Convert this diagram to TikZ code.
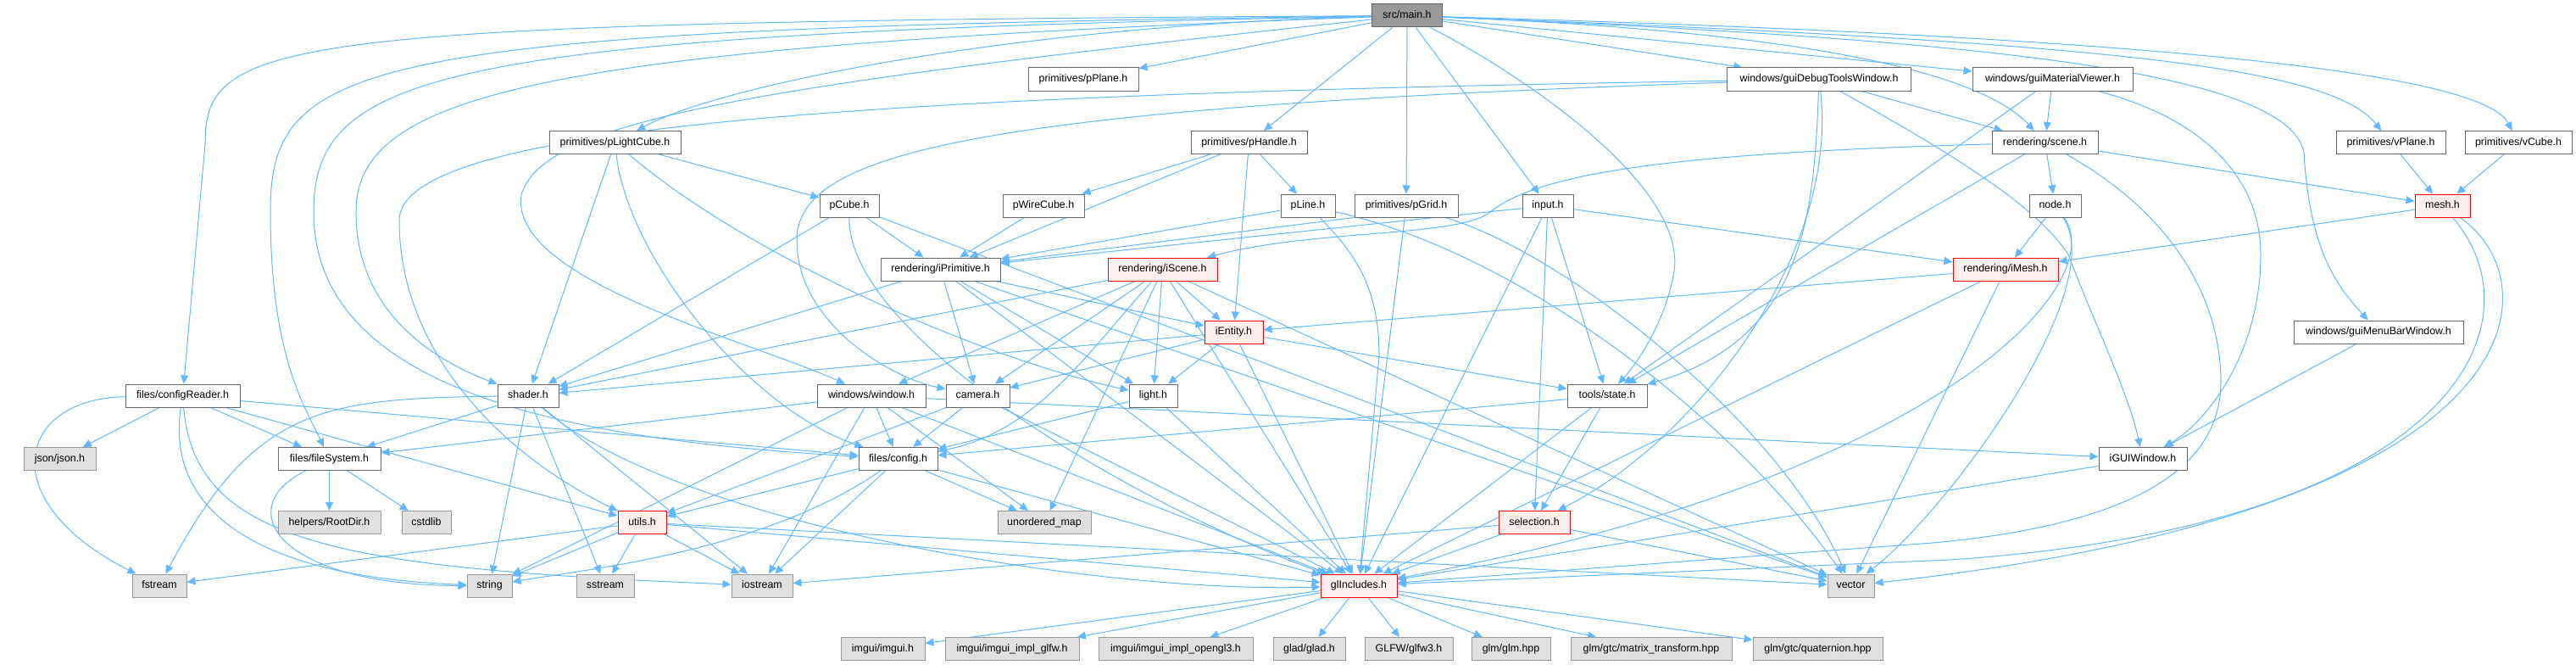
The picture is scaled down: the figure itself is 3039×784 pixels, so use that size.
\documentclass[tikz,border=0pt]{standalone}
\usepackage{fontspec}
\setmainfont{Liberation Sans}
\usetikzlibrary{arrows.meta}
\definecolor{edgec}{HTML}{63B8FF}
\definecolor{nbord}{HTML}{666666}
\definecolor{xbord}{HTML}{999999}
\definecolor{xfill}{HTML}{E0E0E0}
\definecolor{rbord}{HTML}{FF0000}
\definecolor{rfill}{HTML}{FFF0F0}
\definecolor{mfill}{HTML}{999999}
\pgfdeclarelayer{bg}
\pgfsetlayers{bg,main}
\newcommand{\lblfont}{\fontsize{12.4pt}{15pt}\selectfont}
\begin{document}
\begin{tikzpicture}[x=1pt,y=-1pt,
  nd/.style={draw=nbord, fill=white, line width=1pt, rectangle, inner sep=0pt,
     minimum height=27pt, font=\lblfont, text height=9.2pt, text depth=2.4pt},
  xt/.style={nd, draw=xbord, fill=xfill},
  tr/.style={nd, draw=rbord, fill=rfill},
  rt/.style={nd, fill=mfill},
  dep/.style={draw=edgec, line width=1pt, -{Triangle[length=10pt,width=9pt]}},
]
\useasboundingbox (0,0) rectangle (3039,784);
% nodes
\node[rt,minimum width=83pt] (mainh) at (1660,18.5) {src/main.h};
\node[nd,minimum width=130pt] (pPlane) at (1278,93.5) {primitives/pPlane.h};
\node[nd,minimum width=217pt] (guiDebug) at (2146,93.5) {windows/guiDebugToolsWindow.h};
\node[nd,minimum width=189pt] (guiMat) at (2421.5,93.5) {windows/guiMaterialViewer.h};
\node[nd,minimum width=155pt] (pLightCube) at (725.5,168) {primitives/pLightCube.h};
\node[nd,minimum width=137pt] (pHandle) at (1473.5,168) {primitives/pHandle.h};
\node[nd,minimum width=125pt] (scene) at (2412.5,168) {rendering/scene.h};
\node[nd,minimum width=129pt] (vPlane) at (2820.5,168) {primitives/vPlane.h};
\node[nd,minimum width=126pt] (vCube) at (2971,168) {primitives/vCube.h};
\node[nd,minimum width=70pt] (pCube) at (1002,242.5) {pCube.h};
\node[nd,minimum width=96pt] (pWireCube) at (1231,242.5) {pWireCube.h};
\node[nd,minimum width=64pt] (pLine) at (1543,242.5) {pLine.h};
\node[nd,minimum width=122pt] (pGrid) at (1659,242.5) {primitives/pGrid.h};
\node[nd,minimum width=60pt] (input) at (1826,242.5) {input.h};
\node[nd,minimum width=61pt] (nodeh) at (2424.5,242.5) {node.h};
\node[tr,minimum width=65pt] (mesh) at (2881.5,242.5) {mesh.h};
\node[nd,minimum width=141pt] (iPrim) at (1109.5,317.5) {rendering/iPrimitive.h};
\node[tr,minimum width=129pt] (iScene) at (1371.5,317.5) {rendering/iScene.h};
\node[tr,minimum width=124pt] (iMesh) at (2366,317.5) {rendering/iMesh.h};
\node[tr,minimum width=69pt] (iEntity) at (1455.5,391.5) {iEntity.h};
\node[nd,minimum width=200pt] (guiMenu) at (2806,391.5) {windows/guiMenuBarWindow.h};
\node[nd,minimum width=135pt] (cfgReader) at (215.5,466.5) {files/configReader.h};
\node[nd,minimum width=72pt] (shader) at (623,466.5) {shader.h};
\node[nd,minimum width=128pt] (window) at (1028,466.5) {windows/window.h};
\node[nd,minimum width=75pt] (camera) at (1153.5,466.5) {camera.h};
\node[nd,minimum width=57pt] (light) at (1360.5,466.5) {light.h};
\node[nd,minimum width=94pt] (state) at (1896,466.5) {tools/state.h};
\node[xt,minimum width=85pt] (json) at (70.5,541) {json/json.h};
\node[nd,minimum width=121pt] (fileSys) at (388.5,541) {files/fileSystem.h};
\node[nd,minimum width=93pt] (config) at (1059.5,541) {files/config.h};
\node[nd,minimum width=104pt] (iGUI) at (2528,541) {iGUIWindow.h};
\node[xt,minimum width=121pt] (rootDir) at (388.5,616) {helpers/RootDir.h};
\node[xt,minimum width=58pt] (cstdlib) at (503,616) {cstdlib};
\node[tr,minimum width=57pt] (utils) at (757.5,616) {utils.h};
\node[xt,minimum width=110pt] (umap) at (1232,616) {unordered\_map};
\node[tr,minimum width=84pt] (selection) at (1810,616) {selection.h};
\node[xt,minimum width=64pt] (fstream) at (188,690.5) {fstream};
\node[xt,minimum width=53pt] (nstring) at (577.5,690.5) {string};
\node[xt,minimum width=68pt] (sstream) at (714,690.5) {sstream};
\node[xt,minimum width=72pt] (iostream) at (899,690.5) {iostream};
\node[tr,minimum width=90pt] (glInc) at (1603,690.5) {glIncludes.h};
\node[xt,minimum width=55pt] (nvector) at (2183.5,690.5) {vector};
\node[xt,minimum width=99pt] (imgui) at (1041.5,765) {imgui/imgui.h};
\node[xt,minimum width=158pt] (imglfw) at (1194,765) {imgui/imgui\_impl\_glfw.h};
\node[xt,minimum width=182pt] (imgl3) at (1387,765) {imgui/imgui\_impl\_opengl3.h};
\node[xt,minimum width=85pt] (glad) at (1544.5,765) {glad/glad.h};
\node[xt,minimum width=104pt] (glfw) at (1662,765) {GLFW/glfw3.h};
\node[xt,minimum width=93pt] (glm) at (1782.5,765) {glm/glm.hpp};
\node[xt,minimum width=190pt] (matrix) at (1948,765) {glm/gtc/matrix\_transform.hpp};
\node[xt,minimum width=153pt] (quat) at (2144.5,765) {glm/gtc/quaternion.hpp};

\begin{pgfonlayer}{bg}
\fill[white] (0,0) rectangle (3039,784);
% main.h
\draw[dep] (mainh) -- (pPlane);
\draw[dep] (mainh) -- (guiDebug);
\draw[dep] (mainh) -- (guiMat);
\draw[dep] (mainh) .. controls (1200,30) and (850,100) .. (pLightCube);
\draw[dep] (mainh) -- (pHandle);
\draw[dep] (mainh) .. controls (2200,40) and (2350,100) .. (scene);
\draw[dep] (mainh) .. controls (2500,50) and (2750,80) .. (vPlane);
\draw[dep] (mainh) .. controls (2600,45) and (2930,90) .. (vCube);
\draw[dep] (mainh) -- (pGrid);
\draw[dep] (mainh) -- (input);
\draw[dep] (mainh) .. controls (2300,45) and (2700,80) .. (2718,180) .. controls (2725,300) and (2760,340) .. (guiMenu);
\draw[dep] (mainh) .. controls (1800,90) and (1990,220) .. (1975,320) .. controls (1965,380) and (1930,430) .. (state);
\draw[dep] (mainh) .. controls (320,26) and (242,45) .. (242,170) -- (cfgReader);
\draw[dep] (mainh) .. controls (420,34) and (319,70) .. (319,250) .. controls (319,420) and (360,480) .. (fileSys);
\draw[dep] (mainh) .. controls (520,40) and (370,85) .. (370,250) .. controls (370,470) and (700,520) .. (config);
\draw[dep] (mainh) .. controls (640,55) and (420,110) .. (420,250) .. controls (420,360) and (500,420) .. (shader);
\draw[dep] (mainh) .. controls (900,100) and (640,140) .. (615,230) .. controls (600,330) and (880,400) .. (window);
% guiDebugToolsWindow
\draw[dep] (guiDebug) .. controls (1000,112) and (471,150) .. (471,260) .. controls (471,420) and (600,540) .. (utils);
\draw[dep] (guiDebug) .. controls (1150,127) and (945,180) .. (940,280) .. controls (938,380) and (1050,445) .. (camera);
\draw[dep] (guiDebug) .. controls (2140,250) and (2130,400) .. (state);
\draw[dep] (guiDebug) .. controls (2170,300) and (2000,520) .. (selection);
\draw[dep] (guiDebug) .. controls (2300,180) and (2400,240) .. (2440,300) .. controls (2470,380) and (2510,460) .. (iGUI);
\draw[dep] (guiDebug) -- (scene);
% guiMaterialViewer
\draw[dep] (guiMat) -- (scene);
\draw[dep] (guiMat) -- (state);
\draw[dep] (guiMat) .. controls (2600,140) and (2667,210) .. (2667,300) .. controls (2667,420) and (2600,500) .. (iGUI);
% pLightCube
\draw[dep] (pLightCube) -- (pCube);
\draw[dep] (pLightCube) -- (shader);
\draw[dep] (pLightCube) .. controls (880,300) and (1150,420) .. (light);
\draw[dep] (pLightCube) .. controls (740,300) and (880,480) .. (config);
% pHandle
\draw[dep] (pHandle) -- (pWireCube);
\draw[dep] (pHandle) -- (pLine);
\draw[dep] (pHandle) -- (iPrim);
\draw[dep] (pHandle) -- (iEntity);
% scene
\draw[dep] (scene) .. controls (2000,180) and (1820,200) .. (1758,250) .. controls (1720,280) and (1550,270) .. (iScene);
\draw[dep] (scene) -- (nodeh);
\draw[dep] (scene) -- (mesh);
\draw[dep] (scene) -- (state);
\draw[dep] (scene) .. controls (2560,250) and (2620,350) .. (2620,450) .. controls (2620,560) and (2500,620) .. (2280,640) -- (glInc);
% vPlane, vCube
\draw[dep] (vPlane) -- (mesh);
\draw[dep] (vCube) -- (mesh);
% pCube
\draw[dep] (pCube) -- (iPrim);
\draw[dep] (pCube) -- (shader);
\draw[dep] (pCube) .. controls (1000,400) and (1350,600) .. (glInc);
\draw[dep] (pCube) -- (nvector);
% pWireCube
\draw[dep] (pWireCube) -- (iPrim);
% pLine
\draw[dep] (pLine) -- (iPrim);
\draw[dep] (pLine) .. controls (1600,300) and (1627,340) .. (1627,420) -- (glInc);
\draw[dep] (pLine) .. controls (1800,300) and (2050,500) .. (nvector);
% pGrid
\draw[dep] (pGrid.south west) -- (iPrim);
\draw[dep] (pGrid) -- (glInc);
\draw[dep] (pGrid) .. controls (1850,300) and (2100,500) .. (nvector);
% input
\draw[dep] (input) -- (selection);
\draw[dep] (input) -- (state);
\draw[dep] (input) -- (glInc);
\draw[dep] (input) -- (iMesh);
\draw[dep] (input) -- (iPrim);
% iPrimitive
\draw[dep] (iPrim) -- (shader);
\draw[dep] (iPrim) -- (camera);
\draw[dep] (iPrim) -- (iEntity);
\draw[dep] (iPrim) -- (light);
\draw[dep] (iPrim) -- (glInc);
\draw[dep] (iPrim) -- (nvector);
% iScene
\draw[dep] (iScene) -- (shader);
\draw[dep] (iScene) -- (window);
\draw[dep] (iScene) -- (camera);
\draw[dep] (iScene) -- (light);
\draw[dep] (iScene) -- (iEntity);
\draw[dep] (iScene) .. controls (1280,420) and (1220,510) .. (config);
\draw[dep] (iScene) -- (umap);
\draw[dep] (iScene) -- (glInc);
\draw[dep] (iScene) -- (nvector);
% iEntity
\draw[dep] (iEntity) -- (shader);
\draw[dep] (iEntity) -- (camera);
\draw[dep] (iEntity) -- (light);
\draw[dep] (iEntity) -- (state);
\draw[dep] (iEntity) -- (glInc);
% iMesh
\draw[dep] (iMesh) -- (iEntity);
\draw[dep] (iMesh) -- (glInc);
\draw[dep] (iMesh) -- (nvector);
% node
\draw[dep] (nodeh) -- (iMesh);
\draw[dep] (nodeh) .. controls (2490,330) and (2300,560) .. (glInc);
\draw[dep] (nodeh) .. controls (2490,340) and (2300,600) .. (nvector);
% mesh
\draw[dep] (mesh) -- (iMesh);
\draw[dep] (mesh) .. controls (3000,380) and (2900,620) .. (2300,660) -- (glInc);
\draw[dep] (mesh) .. controls (3010,330) and (3010,600) .. (nvector);
% guiMenuBar
\draw[dep] (guiMenu) -- (iGUI);
% configReader
\draw[dep] (cfgReader) -- (json);
\draw[dep] (cfgReader) -- (fileSys);
\draw[dep] (cfgReader) -- (config);
\draw[dep] (cfgReader) -- (utils);
\draw[dep] (cfgReader) .. controls (20,470) and (-10,590) .. (fstream);
\draw[dep] (cfgReader) .. controls (195,600) and (300,680) .. (nstring);
\draw[dep] (cfgReader) .. controls (230,640) and (400,670) .. (iostream);
% shader
\draw[dep] (shader) -- (fileSys);
\draw[dep] (shader) .. controls (380,470) and (300,480) .. (fstream);
\draw[dep] (shader) -- (nstring);
\draw[dep] (shader) -- (sstream);
\draw[dep] (shader) -- (iostream);
\draw[dep] (shader) .. controls (800,620) and (1300,700) .. (glInc);
% window
\draw[dep] (window) -- (fileSys);
\draw[dep] (window) -- (config);
\draw[dep] (window) -- (iGUI);
\draw[dep] (window) -- (iostream);
\draw[dep] (window) -- (nstring);
\draw[dep] (window) -- (umap);
\draw[dep] (window) -- (glInc);
% camera
\draw[dep] (camera) -- (config);
\draw[dep] (camera) -- (utils);
\draw[dep] (camera) -- (glInc);
% light
\draw[dep] (light) -- (config);
\draw[dep] (light) -- (glInc);
% state
\draw[dep] (state) -- (config);
\draw[dep] (state) -- (selection);
\draw[dep] (state) -- (glInc);
% fileSystem
\draw[dep] (fileSys) -- (rootDir);
\draw[dep] (fileSys) -- (cstdlib);
\draw[dep] (fileSys) .. controls (270,600) and (330,690) .. (nstring);
% config
\draw[dep] (config) -- (utils);
\draw[dep] (config) -- (umap);
\draw[dep] (config) -- (iostream);
\draw[dep] (config) .. controls (900,650) and (700,670) .. (nstring);
\draw[dep] (config) -- (glInc);
% iGUIWindow
\draw[dep] (iGUI) -- (glInc);
% utils
\draw[dep] (utils) -- (fstream);
\draw[dep] (utils) -- (nstring);
\draw[dep] (utils) -- (sstream);
\draw[dep] (utils) -- (iostream);
\draw[dep] (utils) -- (nvector);
\draw[dep] (utils) -- (glInc);
% selection
\draw[dep] (selection) -- (iostream);
\draw[dep] (selection) -- (glInc);
\draw[dep] (selection) -- (nvector);
% glIncludes
\draw[dep] (glInc) -- (imgui);
\draw[dep] (glInc) -- (imglfw);
\draw[dep] (glInc) -- (imgl3);
\draw[dep] (glInc) -- (glad);
\draw[dep] (glInc) -- (glfw);
\draw[dep] (glInc) -- (glm);
\draw[dep] (glInc) -- (matrix);
\draw[dep] (glInc) -- (quat);
\end{pgfonlayer}
\end{tikzpicture}
\end{document}
